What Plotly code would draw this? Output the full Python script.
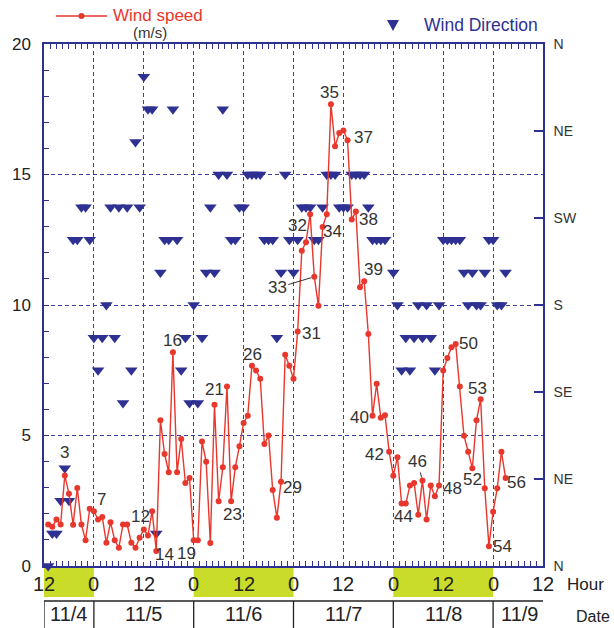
import plotly.graph_objects as go

# ---------------- data ----------------
hours = list(range(1, 112))  # hours after 11/4 12:00

speed = [1.59, 1.50, 1.78, 1.59, 3.47, 2.77, 1.58, 2.99, 1.59, 0.99,
         2.19, 2.10, 1.78, 1.88, 0.89, 1.68, 0.99, 0.70, 1.59, 1.59,
         0.89, 0.70, 1.08, 1.40, 1.17, 2.10, 0.57, 5.58, 4.29, 3.59,
         8.19, 3.59, 4.87, 3.18, 3.37, 0.99, 0.99, 4.77, 3.99, 0.88,
         6.18, 2.48, 3.78, 6.88, 2.48, 3.78, 4.59, 5.48, 5.76, 7.67,
         7.49, 7.17, 4.67, 5.00, 2.91, 1.85, 3.23, 8.09, 7.67, 7.17,
         8.98, 12.08, 12.40, 13.48, 11.08, 9.97, 12.99, 13.48, 17.69, 16.08,
         16.59, 16.69, 16.31, 13.28, 13.58, 10.68, 10.91, 8.89, 5.76, 6.98,
         5.68, 5.78, 4.38, 3.46, 4.17, 2.39, 2.39, 3.08, 3.18, 1.96,
         3.28, 1.78, 3.08, 2.67, 3.08, 7.49, 7.97, 8.38, 8.51, 6.88,
         4.99, 4.38, 3.75, 5.58, 6.39, 2.98, 0.76, 2.08, 2.98, 4.38,
         3.37]

direction_deg = [0, 22.5, 22.5, 45, 67.5, 45, 225, 225, 247.5, 247.5,
                 225, 157.5, 135, 157.5, 180, 247.5, 157.5, 247.5, 112.5, 247.5,
                 135, 292.5, 247.5, 337.5, 315, 315, 22.5, 202.5, 225, 225,
                 315, 225, 135, 157.5, 112.5, 180, 112.5, 157.5, 202.5, 247.5,
                 202.5, 270, 315, 270, 225, 225, 247.5, 247.5, 270, 270,
                 270, 270, 225, 225, 225, 157.5, 202.5, 270, 225, 202.5,
                 225, 247.5, 247.5, 247.5, 225, 225, 247.5, 270, 270, 270,
                 247.5, 247.5, 247.5, 270, 270, 270, 270, 247.5, 225, 225,
                 225, 225, None, 202.5, 180, 135, 157.5, 135, 157.5, 180,
                 157.5, 180, 157.5, 135, 180, 225, 225, 225, 225, 225,
                 202.5, 180, 202.5, 180, 180, 202.5, 225, 225, 180, 180,
                 202.5]

hour_tick_vals = [0, 12, 24, 36, 48, 60, 72, 84, 96, 108, 120]
hour_tick_text = ["12", "0", "12", "0", "12", "0", "12", "0", "12", "0", "12"]
date_labels = ["11/4", "11/5", "11/6", "11/7", "11/8", "11/9"]
date_bounds = [0, 12, 36, 60, 84, 108, 120.8]
shaded_spans = [(0, 12), (36, 60), (84, 108)]
dir_tick_vals = [0, 60, 120, 180, 240, 300, 360]
dir_tick_text = ["N", "NE", "SE", "S", "SW", "NE", "N"]

point_label_text = ["3", "7", "12", "14", "19", "16", "21", "23", "26", "29",
                    "31", "32", "33", "34", "35", "37", "38", "39", "40", "42",
                    "44", "46", "48", "50", "52", "53", "54", "56"]
point_label_hour = [5, 12, 26, 27, 36, 31, 41, 45, 50, 57,
                    61, 64, 65, 67, 69, 73, 75, 77, 79, 83,
                    86, 91, 95, 99, 103, 105, 107, 111]

# ---------------- styling / placement ----------------
RED = "#e8372c"
NAVY = "#2e3192"
GRID = "#3a3fa0"
GREEN = "#c9dc2a"
TXT = "#333333"
NARROW = "Liberation Sans Narrow, Arial Narrow, sans-serif"
SANS = "Liberation Sans, Arial, sans-serif"

W, H = 614, 628
ML, MR, MT, MB = 44, 71, 44, 62
PW, PH = W - ML - MR, H - MT - MB


def px(x):
    return (x - ML) / PW


def py(y):
    return (H - MB - y) / PH


# label offsets (dx, dy) in pixels; arrows for two labels
label_offsets = {
    "3": (0, -23), "7": (8, -12), "12": (-12, 5), "14": (8, 3), "19": (-7, 13),
    "16": (0, -12), "21": (0, -15), "23": (1, 13), "26": (1, -11), "29": (11, 6),
    "31": (14, 2), "32": (-13, 11), "34": (10, 5), "35": (-1, -12), "37": (16, -3),
    "38": (13, 8), "39": (9, -12), "40": (-13, 2), "42": (-15, 3), "44": (2, 13),
    "48": (13, 3), "50": (13, 0), "52": (0, 11), "53": (-3, -11), "54": (14, 0),
    "56": (11, 4),
}
label_arrows = {"33": (-37, 11), "46": (-5, -19)}

fig = go.Figure()

fig.add_trace(go.Scatter(
    x=hours, y=direction_deg, yaxis="y", mode="markers",
    marker=dict(symbol="triangle-down", size=11, color=NAVY, line=dict(width=0)),
    cliponaxis=False, showlegend=False, hoverinfo="skip"))

fig.add_trace(go.Scatter(
    x=hours, y=speed, yaxis="y2", mode="lines+markers",
    line=dict(color=RED, width=1.4),
    marker=dict(size=6, color=RED),
    cliponaxis=False, showlegend=False, hoverinfo="skip"))

annotations = []
for txt, h in zip(point_label_text, point_label_hour):
    yv = speed[hours.index(h)]
    if txt in label_arrows:
        ax, ay = label_arrows[txt]
        annotations.append(dict(x=h, y=yv, xref="x", yref="y2", text=txt,
                                showarrow=True, ax=ax, ay=ay, arrowhead=0,
                                arrowwidth=1, arrowcolor=TXT, standoff=3,
                                font=dict(family=NARROW, size=17, color=TXT)))
    else:
        dx, dy = label_offsets[txt]
        annotations.append(dict(x=h, y=yv, xref="x", yref="y2", text=txt,
                                showarrow=False, xshift=dx, yshift=-dy,
                                font=dict(family=NARROW, size=17, color=TXT)))

# hour labels under the axis
for v, t in zip(hour_tick_vals, hour_tick_text):
    annotations.append(dict(x=v, y=py(584), xref="x", yref="paper", text=t,
                            showarrow=False, xanchor="center", yanchor="middle",
                            font=dict(family=NARROW, size=20, color="#222")))
annotations.append(dict(x=px(565), y=py(584), xref="paper", yref="paper", text="Hour",
                        showarrow=False, xanchor="left", yanchor="middle",
                        font=dict(family=NARROW, size=17, color="#222")))
# date labels
for i, t in enumerate(date_labels):
    mid = (date_bounds[i] + date_bounds[i + 1]) / 2
    annotations.append(dict(x=mid, y=py(614), xref="x", yref="paper", text=t,
                            showarrow=False, xanchor="center", yanchor="middle",
                            font=dict(family=NARROW, size=20, color="#222")))
annotations.append(dict(x=px(612), y=py(616), xref="paper", yref="paper", text="Date",
                        showarrow=False, xanchor="right", yanchor="middle",
                        font=dict(family=NARROW, size=16, color="#222")))

# legend texts
annotations.append(dict(x=px(111), y=py(16), xref="paper", yref="paper", text="Wind speed",
                        showarrow=False, xanchor="left", yanchor="middle",
                        font=dict(family=SANS, size=17, color=RED)))
annotations.append(dict(x=px(150), y=py(32), xref="paper", yref="paper", text="(m/s)",
                        showarrow=False, xanchor="center", yanchor="middle",
                        font=dict(family=NARROW, size=15, color=TXT)))
annotations.append(dict(x=px(422), y=py(25), xref="paper", yref="paper", text="Wind Direction",
                        showarrow=False, xanchor="left", yanchor="middle",
                        font=dict(family=SANS, size=17.5, color=NAVY)))

shapes = []
for a, b in shaded_spans:
    shapes.append(dict(type="rect", xref="x", yref="paper", x0=a, x1=b,
                       y0=py(597), y1=py(568), fillcolor=GREEN, line=dict(width=0),
                       layer="below"))
shapes.append(dict(type="line", xref="x", yref="paper", x0=date_bounds[0], x1=date_bounds[-1],
                   y0=py(601), y1=py(601), line=dict(color="#222", width=1.3)))
for b in date_bounds:
    shapes.append(dict(type="line", xref="x", yref="paper", x0=b, x1=b,
                       y0=py(601), y1=py(628), line=dict(color="#222", width=1.3)))
# legend marks
shapes.append(dict(type="line", xref="paper", yref="paper", x0=px(56), x1=px(107),
                   y0=py(16), y1=py(16), line=dict(color=RED, width=1.5)))
shapes.append(dict(type="circle", xref="paper", yref="paper", x0=px(78.5), x1=px(84.5),
                   y0=py(19), y1=py(13), fillcolor=RED, line=dict(width=0)))
tri = "M {} {} L {} {} L {} {} Z".format(px(387), py(20), px(399), py(20), px(393), py(31))
shapes.append(dict(type="path", xref="paper", yref="paper", path=tri,
                   fillcolor=NAVY, line=dict(width=0)))

fig.update_layout(
    width=W, height=H,
    margin=dict(l=ML, r=MR, t=MT, b=MB, pad=0),
    plot_bgcolor="white", paper_bgcolor="white",
    showlegend=False,
    xaxis=dict(range=[0, 120], tick0=0, dtick=12, showticklabels=False,
               showgrid=True, griddash="4px,3px", gridcolor=GRID, gridwidth=1.3,
               zeroline=False, ticks="", showline=True, linecolor=NAVY, linewidth=1.5,
               mirror="allticks",
               minor=dict(tick0=0, dtick=1.5, ticks="inside", ticklen=5,
                          tickcolor=NAVY, tickwidth=1, showgrid=False)),
    yaxis=dict(range=[0, 360], side="right", tickvals=dir_tick_vals, ticktext=dir_tick_text,
               ticks="inside", ticklen=9, tickcolor=NAVY, tickwidth=1.5,
               showgrid=False, zeroline=False, showline=True, linecolor=NAVY, linewidth=1.5,
               tickfont=dict(family=SANS, size=14, color=TXT), ticklabelstandoff=6),
    yaxis2=dict(range=[0, 20], overlaying="y", side="left", tick0=0, dtick=5,
                showgrid=True, griddash="4px,3px", gridcolor=GRID, gridwidth=1.3,
                zeroline=False, ticks="inside", ticklen=5, tickcolor=NAVY,
                showline=True, linecolor=NAVY, linewidth=1.5,
                tickfont=dict(family=SANS, size=17, color="#222"), ticklabelstandoff=8,
                minor=dict(dtick=1, ticks="inside", ticklen=5, tickcolor=NAVY, showgrid=False)),
    annotations=annotations,
    shapes=shapes,
)

fig.write_html("out.html")
